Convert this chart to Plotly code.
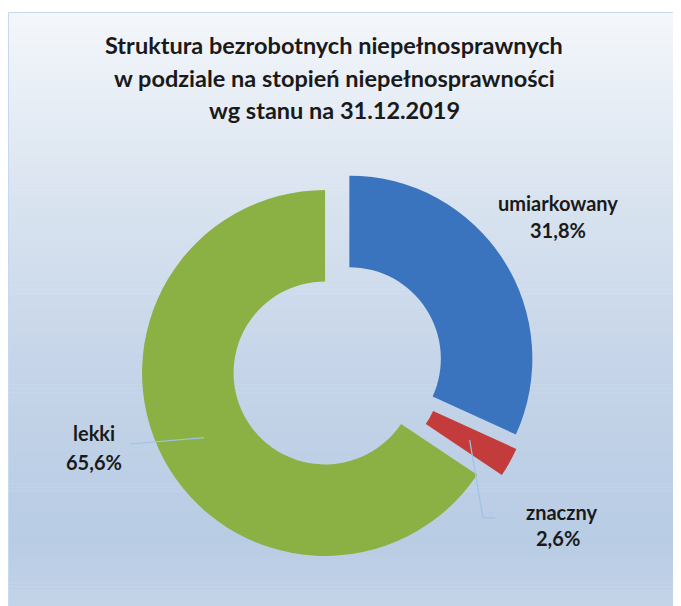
import math
import plotly.graph_objects as go

# ---- data ----
categories = ["umiarkowany", "znaczny", "lekki"]
shares = [31.8, 2.6, 65.6]
title_lines = [
    "Struktura bezrobotnych niepełnosprawnych",
    "w podziale na stopień niepełnosprawności",
    "wg stanu na 31.12.2019",
]

# ---- layout constants (pixels, in page coordinates) ----
PAGE_W, PAGE_H = 681, 606
OFF = 8                        # default body margin of the page
W, H = PAGE_W - OFF, PAGE_H - OFF
CX, CY = 337.5, 366.3          # pie centre
R = 183.0                      # outer radius
PULL = 0.077
HOLE = 0.5
colors = {"umiarkowany": "#3a74bf", "znaczny": "#c43b3b", "lekki": "#8bb043"}
label_pos = {                  # (name centre, percent centre)
    "umiarkowany": ((558, 203), (558, 230)),
    "znaczny": ((561, 512), (558, 538)),
    "lekki": ((94, 433), (94, 462)),
}
leader_end = {
    "znaczny": [(483, 518), (495, 518)],
    "lekki": [(130, 444)],
}


def px(x, y):
    return (x - OFF) / W, 1 - (y - OFF) / H


box = 2 * R * (1 + PULL)
x0, y0t = px(CX - box / 2, CY - box / 2)
x1, y1b = px(CX + box / 2, CY + box / 2)

fig = go.Figure(
    go.Pie(
        labels=categories,
        values=shares,
        sort=False,
        direction="clockwise",
        rotation=0,
        hole=HOLE,
        pull=[PULL] * len(categories),
        marker=dict(colors=[colors[c] for c in categories], line=dict(width=0)),
        textinfo="none",
        hoverinfo="label+percent",
        showlegend=False,
        domain=dict(x=[x0, x1], y=[y1b, y0t]),
    )
)

# ---- background gradient as bands ----
stops = [
    (12, (244, 247, 251)),
    (170, (221, 230, 241)),
    (360, (198, 213, 233)),
    (540, (184, 204, 228)),
    (606, (195, 211, 232)),
]


def bg_color(y):
    for (ya, ca), (yb, cb) in zip(stops, stops[1:]):
        if ya <= y <= yb:
            t = (y - ya) / (yb - ya)
            return "rgb(%d,%d,%d)" % tuple(round(a + (b - a) * t) for a, b in zip(ca, cb))
    return "rgb(%d,%d,%d)" % stops[-1][1]


shapes = []
N = 150
top, bottom = 12, PAGE_H
step = (bottom - top) / N
for i in range(N):
    ya = top + i * step
    yb = ya + step + 0.6
    _, p1 = px(0, ya)
    _, p0 = px(0, min(yb, PAGE_H))
    shapes.append(
        dict(
            type="rect", xref="paper", yref="paper", layer="below",
            x0=0, x1=1, y0=p0, y1=p1,
            fillcolor=bg_color(ya + step / 2), line=dict(width=0),
        )
    )
_, ftop = px(0, top + 0.5)
shapes.append(
    dict(
        type="rect", xref="paper", yref="paper", layer="below",
        x0=0.5 / W, x1=1.01, y0=-0.05, y1=ftop,
        fillcolor="rgba(0,0,0,0)", line=dict(color="#c6d9f0", width=1),
    )
)

# ---- leader lines, starting at mid-angle / mid-radius of the slice ----
total = sum(shares)
cum = 0.0
for cat, v in zip(categories, shares):
    theta = math.radians(90 - 360 * (cum + v / 2) / total)
    cum += v
    if cat not in leader_end:
        continue
    rr = R * (PULL + (1 + HOLE) / 2)
    sx, sy = CX + rr * math.cos(theta), CY - rr * math.sin(theta)
    pts = [(sx, sy)] + leader_end[cat]
    path = "M " + " L ".join("%.4f,%.4f" % px(x, y) for x, y in pts)
    shapes.append(
        dict(type="path", xref="paper", yref="paper", path=path,
             line=dict(color="#9dc3e6", width=1.2), layer="above")
    )

# ---- labels ----
annotations = []
font_lbl = dict(family="Lato, 'Open Sans', sans-serif", size=20, color="#1a1a1a")
for cat, v in zip(categories, shares):
    (nx, ny), (qx, qy) = label_pos[cat]
    pct = ("%.1f" % v).replace(".", ",") + "%"
    for text, (x, y) in ((cat, (nx, ny)), (pct, (qx, qy))):
        ax, ay = px(x, y)
        annotations.append(
            dict(text="<b>%s</b>" % text, x=ax, y=ay, xref="paper", yref="paper",
                 xanchor="center", yanchor="middle", showarrow=False, font=font_lbl)
        )

title_y = [45, 78, 110]
for line, y in zip(title_lines, title_y):
    ax, ay = px(334, y)
    annotations.append(
        dict(text="<b>%s</b>" % line, x=ax, y=ay, xref="paper", yref="paper",
             xanchor="center", yanchor="middle", showarrow=False,
             font=dict(family="Lato, 'Open Sans', sans-serif", size=23.5, color="#1a1a1a"))
    )

fig.update_layout(
    width=W, height=H,
    margin=dict(l=0, r=0, t=0, b=0),
    paper_bgcolor="white",
    plot_bgcolor="white",
    shapes=shapes,
    annotations=annotations,
)

fig.write_html("out.html")
